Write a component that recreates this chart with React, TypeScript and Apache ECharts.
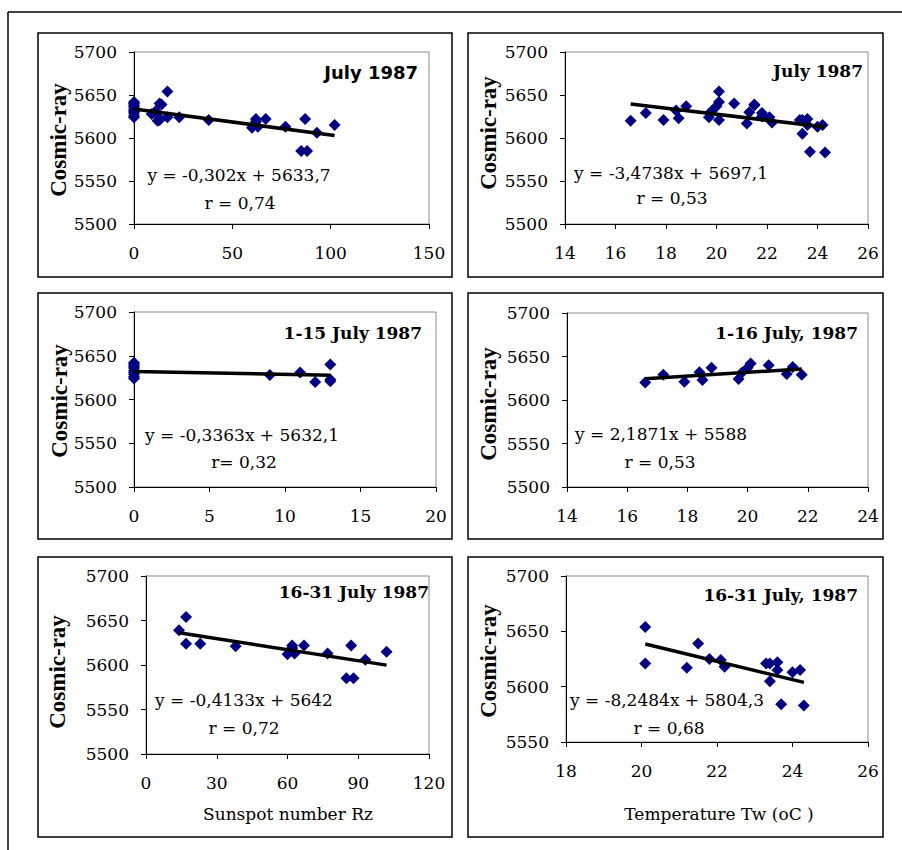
import React, { useEffect, useRef } from "react";
import * as echarts from "echarts";

// ---------- data ----------
// 1-15 July 1987: sunspot number Rz vs cosmic-ray
const RZ_1_15 = [0, 0, 0, 0, 0, 0, 0, 0, 0, 9, 11, 12, 13, 13, 13];
const CR_RZ_1_15 = [5642, 5640, 5638, 5636, 5633, 5631, 5629, 5626, 5624, 5628, 5631, 5620, 5640, 5623, 5621];
// 16-31 July 1987
const RZ_16_31 = [14, 17, 17, 23, 38, 60, 62, 62, 63, 67, 77, 85, 87, 88, 93, 102];
const CR_RZ_16_31 = [5639, 5654, 5624, 5624, 5621, 5612, 5619, 5622, 5613, 5622, 5613, 5585, 5622, 5585, 5606, 5615];
// 1-16 July 1987: temperature Tw vs cosmic-ray
const TW_1_16 = [16.6, 17.2, 17.9, 18.4, 18.5, 18.8, 19.7, 19.8, 20.0, 20.1, 20.7, 21.3, 21.5, 21.8];
const CR_TW_1_16 = [5620, 5629, 5621, 5632, 5623, 5637, 5624, 5631, 5637, 5642, 5640, 5630, 5638, 5629];
// 16-31 July 1987
const TW_16_31 = [20.1, 20.1, 21.2, 21.5, 21.8, 22.1, 22.2, 23.3, 23.4, 23.4, 23.6, 23.6, 23.7, 24.0, 24.2, 24.3];
const CR_TW_16_31 = [5654, 5621, 5617, 5639, 5625, 5624, 5618, 5621, 5621, 5605, 5622, 5615, 5584, 5613, 5615, 5583];
// whole July = union of the two halves
const RZ_JULY = [...RZ_1_15, ...RZ_16_31];
const CR_RZ_JULY = [...CR_RZ_1_15, ...CR_RZ_16_31];
const TW_JULY = [...TW_1_16, ...TW_16_31];
const CR_TW_JULY = [...CR_TW_1_16, ...CR_TW_16_31];

// regression coefficients printed on the chart
const SLOPES = [-0.302, -3.4738, -0.3363, 2.1871, -0.4133, -8.2484];
const INTERCEPTS = [5633.7, 5697.1, 5632.1, 5588, 5642, 5804.3];
const EQUATIONS = [
  "y = -0,302x + 5633,7",
  "y = -3,4738x + 5697,1",
  "y = -0,3363x + 5632,1",
  "y = 2,1871x + 5588",
  "y = -0,4133x + 5642",
  "y = -8,2484x + 5804,3",
];
const R_TEXTS = ["r = 0,74", "r = 0,53", "r= 0,32", "r = 0,53", "r = 0,72", "r = 0,68"];
const TITLES = ["July 1987", "July 1987", "1-15 July 1987", "1-16 July, 1987", "16-31 July 1987", "16-31 July, 1987"];
const X_MIN = [0, 14, 0, 14, 0, 18];
const X_MAX = [150, 26, 20, 24, 120, 26];
const X_INTERVAL = [50, 2, 5, 2, 30, 2];
const Y_MIN = [5500, 5500, 5500, 5500, 5500, 5550];
const Y_MAX = [5700, 5700, 5700, 5700, 5700, 5700];
const Y_LABEL = "Cosmic-ray";
const X_NAMES = ["Sunspot number Rz", "Temperature Tw (oC )"];

const XS = [RZ_JULY, TW_JULY, RZ_1_15, TW_1_16, RZ_16_31, TW_16_31];
const YS = [CR_RZ_JULY, CR_TW_JULY, CR_RZ_1_15, CR_TW_1_16, CR_RZ_16_31, CR_TW_16_31];

// ---------- layout ----------
const GRIDS = [
  { left: 134, top: 52, width: 295, height: 172 },
  { left: 565, top: 52, width: 303, height: 172 },
  { left: 134, top: 312, width: 302, height: 175 },
  { left: 567, top: 313, width: 301, height: 174 },
  { left: 146, top: 576, width: 283, height: 178 },
  { left: 566, top: 576, width: 302, height: 166 },
];
const FRAMES = [
  { x: 38, y: 33, w: 414, h: 244 },
  { x: 468, y: 33, w: 415, h: 244 },
  { x: 38, y: 293, w: 414, h: 246 },
  { x: 468, y: 293, w: 415, h: 246 },
  { x: 38, y: 557, w: 414, h: 280 },
  { x: 468, y: 557, w: 415, h: 280 },
];
const TITLE_POS = [
  { x: 418, y: 72 },
  { x: 863, y: 71 },
  { x: 422, y: 333 },
  { x: 858, y: 333 },
  { x: 429, y: 592 },
  { x: 858, y: 595 },
];
const EQ_POS = [
  { x: 239, y: 175, ry: 203, rx: 240 },
  { x: 671, y: 173, ry: 198, rx: 672 },
  { x: 242, y: 435, ry: 462, rx: 244 },
  { x: 661, y: 434, ry: 462, rx: 660 },
  { x: 244, y: 700, ry: 728, rx: 244 },
  { x: 667, y: 700, ry: 728, rx: 669 },
];
const YNAME_POS = [
  { x: 58, y: 140 },
  { x: 488, y: 133 },
  { x: 59, y: 401 },
  { x: 488, y: 404 },
  { x: 57, y: 672 },
  { x: 488, y: 661 },
];
const XNAME_POS = [
  { x: 288, y: 814 },
  { x: 719, y: 814 },
];

const SERIF = "DejaVu Serif";

export default function App() {
  const ref = useRef<HTMLDivElement>(null);

  useEffect(() => {
    if (!ref.current) return;
    const chart = echarts.init(ref.current, undefined, { renderer: "svg" });

    const grid = GRIDS.map((g) => ({
      ...g,
      show: true,
      borderColor: "#8a8a8a",
      borderWidth: 1,
      backgroundColor: "#ffffff",
      containLabel: false,
    }));

    const xAxis = GRIDS.map((_, i) => ({
      type: "value" as const,
      gridIndex: i,
      min: X_MIN[i],
      max: X_MAX[i],
      interval: X_INTERVAL[i],
      axisLine: { show: true, onZero: false, lineStyle: { color: "#000", width: 1 } },
      axisTick: { show: true, length: 5, lineStyle: { color: "#000" } },
      splitLine: { show: false },
      axisLabel: {
        color: "#000",
        fontFamily: SERIF,
        fontSize: 17,
        margin: 20,
        formatter: (v: number) => String(v),
      },
    }));

    const yAxis = GRIDS.map((_, i) => ({
      type: "value" as const,
      gridIndex: i,
      min: Y_MIN[i],
      max: Y_MAX[i],
      interval: 50,
      axisLine: { show: true, onZero: false, lineStyle: { color: "#000", width: 1 } },
      axisTick: { show: true, length: 5, lineStyle: { color: "#000" } },
      splitLine: { show: false },
      axisLabel: {
        color: "#000",
        fontFamily: SERIF,
        fontSize: 17,
        margin: 17,
        formatter: (v: number) => String(v),
      },
    }));

    const series: any[] = [];
    XS.forEach((xs, i) => {
      series.push({
        type: "scatter",
        xAxisIndex: i,
        yAxisIndex: i,
        symbol: "diamond",
        symbolSize: 12,
        itemStyle: { color: "#000080", opacity: 1 },
        data: xs.map((x, k) => [x, YS[i][k]]),
        z: 2,
      });
      const x0 = Math.min(...xs);
      const x1 = Math.max(...xs);
      series.push({
        type: "line",
        xAxisIndex: i,
        yAxisIndex: i,
        symbol: "none",
        lineStyle: { color: "#000", width: 3.5 },
        data: [
          [x0, SLOPES[i] * x0 + INTERCEPTS[i]],
          [x1, SLOPES[i] * x1 + INTERCEPTS[i]],
        ],
        z: 3,
      });
    });

    const graphic: any[] = [];
    // outer border (top and left)
    graphic.push({
      type: "line",
      shape: { x1: 8, y1: 12, x2: 902, y2: 12 },
      style: { stroke: "#000", lineWidth: 1.5 },
      silent: true,
    });
    graphic.push({
      type: "line",
      shape: { x1: 8, y1: 12, x2: 8, y2: 850 },
      style: { stroke: "#000", lineWidth: 1.5 },
      silent: true,
    });
    FRAMES.forEach((f) => {
      graphic.push({
        type: "rect",
        shape: { x: f.x, y: f.y, width: f.w, height: f.h },
        style: { fill: "none", stroke: "#000", lineWidth: 1.5 },
        silent: true,
        z: -1,
      });
    });
    TITLES.forEach((t, i) => {
      graphic.push({
        type: "text",
        x: TITLE_POS[i].x,
        y: TITLE_POS[i].y,
        z: 10,
        style: {
          text: t,
          fontFamily: i === 0 ? "DejaVu Sans" : SERIF,
          fontWeight: "bold",
          fontSize: i === 0 ? 18 : 17,
          fill: "#000",
          align: "right",
          verticalAlign: "middle",
        },
        silent: true,
      });
    });
    EQUATIONS.forEach((t, i) => {
      graphic.push({
        type: "text",
        x: EQ_POS[i].x,
        y: EQ_POS[i].y,
        z: 10,
        style: {
          text: t,
          fontFamily: SERIF,
          fontSize: 17,
          fill: "#000",
          align: "center",
          verticalAlign: "middle",
        },
        silent: true,
      });
      graphic.push({
        type: "text",
        x: EQ_POS[i].rx,
        y: EQ_POS[i].ry,
        z: 10,
        style: {
          text: R_TEXTS[i],
          fontFamily: SERIF,
          fontSize: 17,
          fill: "#000",
          align: "center",
          verticalAlign: "middle",
        },
        silent: true,
      });
    });
    YNAME_POS.forEach((p) => {
      graphic.push({
        type: "text",
        x: p.x,
        y: p.y,
        rotation: Math.PI / 2,
        z: 10,
        style: {
          text: Y_LABEL,
          fontFamily: "Liberation Serif",
          fontWeight: "bold",
          fontSize: 23,
          fill: "#000",
          align: "center",
          verticalAlign: "middle",
        },
        silent: true,
      });
    });
    X_NAMES.forEach((t, i) => {
      graphic.push({
        type: "text",
        x: XNAME_POS[i].x,
        y: XNAME_POS[i].y,
        z: 10,
        style: {
          text: t,
          fontFamily: SERIF,
          fontSize: 17,
          fill: "#000",
          align: "center",
          verticalAlign: "middle",
        },
        silent: true,
      });
    });

    chart.setOption({
      animation: false,
      backgroundColor: "#ffffff",
      grid,
      xAxis,
      yAxis,
      series,
      graphic,
    });

    return () => chart.dispose();
  }, []);

  return (
    <div
      ref={ref}
      style={{ position: "absolute", left: 0, top: 0, width: 902, height: 850, background: "#fff" }}
    />
  );
}
